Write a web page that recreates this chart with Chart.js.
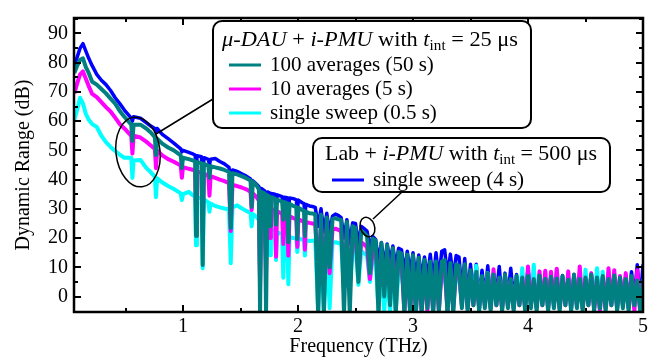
<!DOCTYPE html>
<html>
<head>
<meta charset="utf-8">
<script src="https://cdn.jsdelivr.net/npm/chart.js@4.4.1/dist/chart.umd.min.js"></script>
<style>
  html, body { margin: 0; padding: 0; background: #fff; }
  canvas { display: block; }
</style>
</head>
<body>
<canvas id="c" width="655" height="359"></canvas>
<script>
// Dynamic range spectra (dB vs THz)
// one shared frequency grid; narrow absorption dips get their own points

var freqTHz = [
  // 0.05 - 1.05
  0.055, 0.08, 0.105, 0.13, 0.155, 0.18, 0.21, 0.25, 0.29, 0.33, 0.37, 0.41, 0.45, 0.49, 0.55,
  0.56, 0.57, 0.63, 0.68, 0.72, 0.755, 0.765, 0.775, 0.82, 0.87, 0.92, 0.98, 0.99, 1.00, 1.05,
  // 1.05 - 2.10
  1.09, 1.105, 1.113, 1.121, 1.16, 1.171, 1.182, 1.22, 1.23, 1.24, 1.28, 1.32, 1.36, 1.40, 1.415,
  1.43, 1.47, 1.51, 1.55, 1.587, 1.597, 1.607, 1.64, 1.66, 1.67, 1.68, 1.71, 1.722, 1.734, 1.75,
  1.757, 1.764, 1.80, 1.809, 1.818, 1.862, 1.872, 1.882, 1.906, 1.916, 1.926, 1.96, 1.985, 1.994, 2.003,
  2.04, 2.052, 2.06, 2.068, 2.10,
  // 2.10 - 3.40
  2.125, 2.15, 2.175, 2.2, 2.225, 2.25, 2.275, 2.3, 2.325, 2.35, 2.375, 2.4, 2.425, 2.45, 2.475,
  2.5, 2.525, 2.55, 2.575, 2.6, 2.625, 2.65, 2.675, 2.7, 2.725, 2.75, 2.775, 2.8, 2.825, 2.85,
  2.875, 2.9, 2.925, 2.95, 2.975, 3.0, 3.025, 3.05, 3.075, 3.1, 3.125, 3.15, 3.175, 3.2, 3.225,
  3.25, 3.275, 3.3, 3.325, 3.35, 3.375, 3.4,
  // 3.40 - 5.00 (noise floor)
  3.425, 3.45, 3.475, 3.5, 3.525, 3.55, 3.575, 3.6, 3.625, 3.65, 3.675, 3.7, 3.725, 3.75, 3.775, 3.8,
  3.825, 3.85, 3.875, 3.9, 3.925, 3.95, 3.975, 4.0, 4.025, 4.05, 4.075, 4.1, 4.125, 4.15, 4.175, 4.2,
  4.225, 4.25, 4.275, 4.3, 4.325, 4.35, 4.375, 4.4, 4.425, 4.45, 4.475, 4.5, 4.525, 4.55, 4.575, 4.6,
  4.625, 4.65, 4.675, 4.7, 4.725, 4.75, 4.775, 4.8, 4.825, 4.85, 4.875, 4.9, 4.925, 4.95, 4.975, 5.0
];

// mu-DAU + i-PMU, 100 averages (50 s)
var dauAvg100 = [
  76.5, 79, 81, 81.5, 78.5, 76.5, 73.5, 72.5, 71, 69.5, 67.7, 66, 63.5, 61.5, 58.8,
  53.3, 58.8, 58.8, 57.5, 56.1, 54.5, 48.4, 54, 52.3, 51, 50, 48.3, 44, 47.5, 47,
  46.5, 46.2, 20.7, 46, 45.6, 10.8, 45.4, 44.7, 40.6, 44.6, 44.2, 43.8, 43.3, 42.6, 23.5,
  42.2, 41.8, 41.2, 40.5, 39.7, 30.7, 39.3, 38, 36.6, -6, 35.8, 35.3, -6, 34.7, 34.2,
  24, 34, 33.5, 24.6, 33.2, 32.5, 26.3, 32.3, 31.9, 18.6, 31.7, 31, 30.6, 19.7, 30.4,
  29.5, 29.3, 20.7, 29.1, 28.5,
  28.4, 28.2, -6, 28, -6, 27, 10, 26.5, 26.8, 26.4, 26.2, -6, 25.5, -6, 24,
  23.5, 5, 22.5, 21.8, 20.7, 8, 19.8, 19.2, -6, 18.3, 0, 17.5, -3, 16.5, -6,
  15.2, 14.7, -6, 14.4, -6, 14.1, -6, 13.3, -6, 12.5, -4, 12, -6, 12, -5,
  12, 12.5, -6, 11.5, -6, 11, 10.5,
  -4, 11, -5, 9, -3, 8.5, -5, 7, -4, 8, -5, 7.5, -3, 6.5, -5, 7.5,
  -4, 6, -5, 7, -3, 6.5, -5, 7, -4, 6, -5, 7.2, -3, 6, -5, 6.8,
  -4, 6.2, -5, 7, -3, 5.8, -5, 7.5, -4, 6, -5, 6.5, -3, 7.5, -5, 6.5,
  -4, 7, -5, 6, -3, 7.2, -5, 6.5, -4, 6, -5, 7, -3, 5.5, -5, 6
];

// mu-DAU + i-PMU, 10 averages (5 s)
var dauAvg10 = [
  69.5, 73, 76, 77, 74.5, 72, 69.3, 68.2, 66.5, 64.8, 63.3, 61.2, 59, 57.5, 55,
  48.9, 55, 54.4, 53, 51.7, 50.5, 43.9, 50, 48.3, 47, 46.1, 44.8, 40.6, 44.3, 43.7,
  43.3, 43, 29.6, 42.8, 42.3, 21.9, 42.1, 41.4, 34.5, 41.2, 40.6, 40, 39.5, 38.8, 22.4,
  38.2, 37.8, 37.3, 36.7, 35.8, 29.6, 35.3, 34, 32.8, 5, 32, 31.3, 8, 30.8, 30.3,
  20, 30, 29.5, 13.6, 29.2, 28.3, 18, 28, 27.6, 14, 27.4, 26.8, 26.6, 17, 26.4,
  25.8, 25.6, 16, 25.5, 25.2,
  25, 24.8, 10, 24.5, 12, 23.5, 8, 23, 23.2, 22.8, 22.4, 6, 22, 4, 19.8,
  19.6, 8, 18.5, 17.8, 16.9, 6, 16, 15.3, 5, 14.6, 3, 14.3, 4, 14, 2,
  12, 11.3, -5, 10.5, -5, 9.7, -5, 9.3, -5, 9, -5, 9.3, -5, 9.5, -5,
  9.3, 9.5, -5, 9, -4, 9, 8.5,
  -3, 10, -4, 8, -3, 7, -4, 6, -3, 7, -4, 9.3, -3, 6, -4, 6.5,
  -3, 5.5, -4, 6, -3, 6, -4, 10.3, -3, 5.5, -4, 8.6, -3, 8.8, -4, 8.5,
  -3, 9.5, -4, 6, -3, 8.6, -4, 6.5, -3, 10.3, -4, 6, -3, 8, -4, 6,
  -5, 6.5, -4, 9.7, -3, 9, -4, 7, -3, 8, -4, 6.5, -5, 9, -4, 5.5
];

// mu-DAU + i-PMU, single sweep (0.5 s)
var dauSingle = [
  60.5, 64, 68, 66, 62.5, 60.5, 59, 58, 55, 52.8, 51.2, 49.8, 48.5, 47.5, 47.5,
  40.6, 46.5, 46.7, 44, 42.5, 41, 34, 40.5, 39, 37.8, 36.8, 35.3, 33, 35, 35.8,
  34.5, 34.2, 17.5, 34, 33.5, 9.7, 33.2, 32.2, 29, 31.8, 31, 30.5, 30.1, 29.8, 11.4,
  30.5, 31.2, 30.2, 29.3, 28.6, 24, 28.2, 27.2, 26.2, 17.4, 25.2, 24.2, 12, 23.7, 23.2,
  14.1, 23, 22.4, 12.5, 22, 21.3, 6.4, 21, 20.6, 4.2, 20.4, 20, 19.8, 15.2, 19.7,
  19.5, 19.4, 14, 19.3, 19,
  19.1, 19.2, -5, 19.2, -5, 18.8, -4, 18.5, 18.6, 18.3, 18.1, 2, 17.8, 3, 16.4,
  16.3, 4, 15.5, 14.8, 14.1, 5, 13.2, 12.5, -5, 11.6, -5, 10.5, -5, 9.8, -5,
  9, 8.6, 0, 7.5, 2, 6.4, 0, 5.8, -2, 5.3, 0, 5.7, -2, 6, 0,
  6.2, 6.5, 1, 6, 0, 6.5, 6.5,
  -3, 8, -4, 7, -2, 10.5, -4, 6, -3, 8, -4, 6, -2, 6, -4, 6.5,
  -3, 5.5, -4, 6.5, -2, 9.7, -4, 6.5, -3, 10.9, -4, 6, -2, 5.5, -4, 6,
  -3, 9.2, -4, 6.5, -2, 5.5, -4, 7, -3, 6, -4, 9.2, -2, 7, -4, 9.7,
  -3, 8.5, -4, 5.5, -2, 6.5, -4, 6, -3, 5.5, -4, 6.5, -2, 5, -4, 5.5
];

// Lab + i-PMU, single sweep (4 s)
var labSingle = [
  79, 82, 85, 86.5, 84, 81.5, 79, 76, 74, 72.5, 70.5, 68, 66, 63.8, 61,
  60, 61.5, 61, 59.5, 58.3, 57.5, 56.5, 57.5, 55.5, 54, 52.5, 50.5, 49.5, 50, 49.3,
  48.7, 48.4, 44, 48.2, 47.8, 40, 47.5, 46.9, 45, 47, 47.2, 46.2, 45.4, 44.2, 38,
  43.3, 42.8, 42, 41.2, 40.2, 36, 39.6, 38.4, 37.6, -6, 37, 36.1, 10, 35.8, 35.5,
  30, 35.3, 35, 30, 34.8, 34.2, 30, 34, 33.8, 28, 33.7, 33.5, 33.1, 29, 33,
  32, 31.8, 27, 31.5, 31,
  30.8, 30.5, 24, 30, 22, 28.5, 22, 27.5, 28.2, 27.8, 27, 20, 26.3, 18, 25.2,
  25, 18, 24, 23.2, 22.4, 17, 20.5, 19.5, 12, 18.5, 10, 18, 12, 17.3, 10,
  16.5, 16, 8, 15.5, 8, 15, 6, 14.2, 6, 13.5, 6, 14.5, 5, 15, 6,
  15.5, 16, 7, 14.5, 6, 14, 13.5,
  2, 13, 0, 11, 1, 11, -1, 9, 0, 10.5, -1, 8, 1, 10.3, -2, 8,
  0, 9.7, -1, 7.5, 0, 7, -2, 9.5, -1, 6.5, -2, 7.5, 0, 6.5, -2, 7.5,
  -1, 7, -2, 7.2, 0, 6, -2, 7.5, -1, 6.5, -2, 6.8, 0, 7.5, -2, 7,
  -1, 7, -2, 6.2, 0, 7, -2, 6.8, -1, 7, -2, 8.5, 0, 10.9, -2, 11
];

var xTicks = [1, 2, 3, 4, 5];
var xMinor = [0.5, 1.5, 2.5, 3.5, 4.5];
var yTicks = [0, 10, 20, 30, 40, 50, 60, 70, 80, 90];
var yMinor = [5, 15, 25, 35, 45, 55, 65, 75, 85, 95];

var TEAL = '#008080', MAGENTA = '#ff00ff', CYAN = '#00ffff', BLUE = '#0000ff';
var FONT = '"Liberation Serif", "Times New Roman", serif';

function series(values, color, width) {
  return {
    data: freqTHz.map(function (f, i) { return { x: f, y: values[i] }; }),
    borderColor: color,
    borderWidth: width,
    borderJoinStyle: 'round',
    pointRadius: 0,
    fill: false,
    clip: 0
  };
}

// rounded legend box
function roundBox(ctx, x, y, w, h, r) {
  ctx.beginPath();
  ctx.moveTo(x + r, y);
  ctx.arcTo(x + w, y, x + w, y + h, r);
  ctx.arcTo(x + w, y + h, x, y + h, r);
  ctx.arcTo(x, y + h, x, y, r);
  ctx.arcTo(x, y, x + w, y, r);
  ctx.closePath();
  ctx.fillStyle = '#fff';
  ctx.fill();
  ctx.lineWidth = 2;
  ctx.strokeStyle = '#000';
  ctx.stroke();
}

function partFont(p, size) {
  return (p.it ? 'italic ' : '') + (p.sub ? size * 0.68 : size) + 'px ' + FONT;
}

// text made of pieces (italic / subscript), stretched to a given width
function richText(ctx, parts, x, y, size, width) {
  var total = 0;
  parts.forEach(function (p) { ctx.font = partFont(p, size); total += ctx.measureText(p.t).width; });
  var sx = width ? width / total : 1;
  ctx.save();
  ctx.translate(x, y);
  ctx.scale(sx, 1);
  ctx.textBaseline = 'middle';
  ctx.textAlign = 'left';
  ctx.fillStyle = '#000';
  var cx = 0;
  parts.forEach(function (p) {
    ctx.font = partFont(p, size);
    ctx.fillText(p.t, cx, p.sub ? size * 0.3 : 0);
    cx += ctx.measureText(p.t).width;
  });
  ctx.restore();
}

function legendRow(ctx, color, label, x, y) {
  ctx.strokeStyle = color;
  ctx.lineWidth = 3;
  ctx.beginPath();
  ctx.moveTo(x, y);
  ctx.lineTo(x + 32, y);
  ctx.stroke();
  richText(ctx, [{ t: label }], x + 41, y, 21);
}

var decor = {
  id: 'decor',
  afterDatasetsDraw: function (chart) {
    var ctx = chart.ctx, a = chart.chartArea;
    var xs = chart.scales.x, ys = chart.scales.y;
    ctx.save();
    ctx.strokeStyle = '#000';
    ctx.lineWidth = 2;
    ctx.beginPath();
    // ticks pointing inward on all four sides
    xTicks.concat(xMinor).forEach(function (v) {
      var len = xTicks.indexOf(v) >= 0 ? 7 : 4;
      var px = Math.round(xs.getPixelForValue(v));
      ctx.moveTo(px, a.bottom); ctx.lineTo(px, a.bottom - len);
      ctx.moveTo(px, a.top); ctx.lineTo(px, a.top + len);
    });
    yTicks.concat(yMinor).forEach(function (v) {
      var len = yTicks.indexOf(v) >= 0 ? 7 : 4;
      var py = Math.round(ys.getPixelForValue(v));
      ctx.moveTo(a.left, py); ctx.lineTo(a.left + len, py);
      ctx.moveTo(a.right, py); ctx.lineTo(a.right - len, py);
    });
    ctx.stroke();
    ctx.lineWidth = 2.5;
    ctx.strokeRect(a.left, a.top, a.right - a.left, a.bottom - a.top);

    // callouts
    ctx.strokeStyle = '#000';
    ctx.lineWidth = 1.5;
    ctx.beginPath();
    ctx.ellipse(138, 152, 22, 35, -0.12, 0, Math.PI * 2);
    ctx.moveTo(156, 134); ctx.lineTo(213, 99);
    ctx.stroke();
    ctx.beginPath();
    ctx.ellipse(367.5, 227, 7, 10, -0.35, 0, Math.PI * 2);
    ctx.moveTo(373, 219); ctx.lineTo(402, 192);
    ctx.stroke();

    // legend 1
    roundBox(ctx, 213, 21, 318, 107, 9);
    richText(ctx, [
      { t: '\u03bc-DAU', it: true }, { t: ' + ' }, { t: 'i-PMU', it: true },
      { t: ' with ' }, { t: 't', it: true }, { t: 'int', sub: true }, { t: ' = 25 \u03bcs' }
    ], 222, 40, 21, 296);
    legendRow(ctx, TEAL, '100 averages (50 s)', 229, 65);
    legendRow(ctx, MAGENTA, '10 averages (5 s)', 229, 89);
    legendRow(ctx, CYAN, 'single sweep (0.5 s)', 229, 113);

    // legend 2
    roundBox(ctx, 313, 138, 297, 54, 9);
    richText(ctx, [
      { t: 'Lab + ' }, { t: 'i-PMU', it: true },
      { t: ' with ' }, { t: 't', it: true }, { t: 'int', sub: true }, { t: ' = 500 \u03bcs' }
    ], 325, 154, 21, 272);
    legendRow(ctx, BLUE, 'single sweep (4 s)', 332, 180);
    ctx.restore();
  }
};

new Chart(document.getElementById('c'), {
  type: 'line',
  data: {
    datasets: [
      series(dauAvg100, TEAL, 4),
      series(dauAvg10, MAGENTA, 4),
      series(dauSingle, CYAN, 4),
      series(labSingle, BLUE, 3.5)
    ]
  },
  options: {
    responsive: false,
    animation: false,
    devicePixelRatio: 1,
    layout: { padding: { top: 8, right: 12, left: 0, bottom: 0 } },
    plugins: { legend: { display: false }, tooltip: { enabled: false } },
    elements: { line: { tension: 0 } },
    scales: {
      x: {
        type: 'linear',
        min: 0.052,
        max: 5.0,
        grid: { display: false, drawTicks: false },
        border: { display: false },
        afterBuildTicks: function (s) { s.ticks = xTicks.map(function (v) { return { value: v }; }); },
        afterFit: function (s) { s.height = 47; },
        ticks: { font: { family: FONT, size: 20 }, color: '#000', padding: 3, maxRotation: 0, autoSkip: false },
        title: { display: true, text: 'Frequency (THz)', font: { family: FONT, size: 20 }, color: '#000', padding: 0 }
      },
      y: {
        min: -5.3,
        max: 95.3,
        grid: { display: false, drawTicks: false },
        border: { display: false },
        afterBuildTicks: function (s) { s.ticks = yTicks.map(function (v) { return { value: v }; }); },
        afterFit: function (s) { s.width = 74; },
        ticks: { font: { family: FONT, size: 20 }, color: '#000', padding: 6, autoSkip: false },
        title: { display: true, text: 'Dynamic Range (dB)', font: { family: FONT, size: 20 }, color: '#000', padding: { top: 12, bottom: 0 } }
      }
    }
  },
  plugins: [decor]
});
</script>
</body>
</html>
